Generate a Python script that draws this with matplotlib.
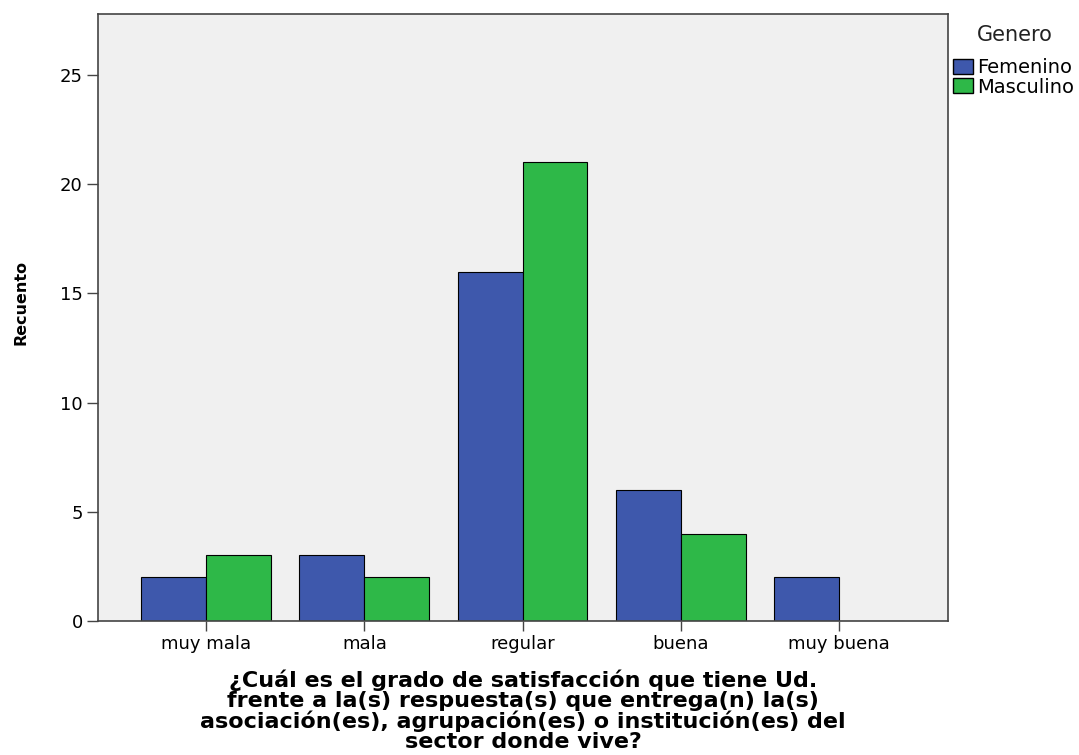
import matplotlib
matplotlib.use("Agg")
import matplotlib.pyplot as plt
import numpy as np
from matplotlib.patches import Patch

categorias = ["muy mala", "mala", "regular", "buena", "muy buena"]
femenino = [2, 3, 16, 6, 2]
masculino = [3, 2, 21, 4, 0]
series = ["Femenino", "Masculino"]
colores = ["#3E58AC", "#2EB848"]

plt.rcParams['font.family'] = ['DejaVu Sans']

fig = plt.figure(figsize=(10.79, 7.55), dpi=100)
ax = fig.add_axes([0.0908, 0.1775, 0.7878, 0.804])
ax.set_facecolor("#F0F0F0")

x = np.arange(len(categorias))
w = 0.41
ax.bar(x - w/2, femenino, w, color=colores[0], edgecolor="black", linewidth=0.8)
ax.bar(x + w/2, masculino, w, color=colores[1], edgecolor="black", linewidth=0.8)

ax.set_xlim(-0.684, 4.69)
ax.set_ylim(0, 27.8)
ax.set_xticks(x)
ax.set_xticklabels(categorias, fontsize=13)
ax.set_yticks([0, 5, 10, 15, 20, 25])
ax.tick_params(axis='y', labelsize=13, length=8, width=1, pad=3, color="#444444")
ax.tick_params(axis='x', length=7, width=1, pad=3, color="#444444")
for s in ax.spines.values():
    s.set_color("#444444")
    s.set_linewidth(1.2)

# eje y
ax.set_ylabel("Recuento", fontsize=11.5, fontweight="bold")
ax.yaxis.label.set_va("center")
ax.yaxis.set_label_coords(-0.0906, 0.5255)

# titulo del eje x
ax.set_xlabel("¿Cuál es el grado de satisfacción que tiene Ud.\n"
              "frente a la(s) respuesta(s) que entrega(n) la(s)\n"
              "asociación(es), agrupación(es) o institución(es) del\n"
              "sector donde vive?", fontsize=16, fontweight="bold",
              linespacing=0.98)
ax.xaxis.set_label_coords(0.5, -0.0807)

# leyenda
fig.text(1015 / 1079, 1 - 35 / 755, "Genero", fontsize=15, ha="center", va="center", color="#222222")
handles = [Patch(facecolor=c, edgecolor="black", label=l) for c, l in zip(colores, series)]
leg = fig.legend(handles=handles, loc="upper left",
                 bbox_to_anchor=(0.8832, 0.9232), frameon=False, fontsize=14,
                 handlelength=1.03, handleheight=0.82,
                 handletextpad=0.2, labelspacing=0.03, borderaxespad=0,
                 borderpad=0)

fig.savefig("out.png", dpi=100)
